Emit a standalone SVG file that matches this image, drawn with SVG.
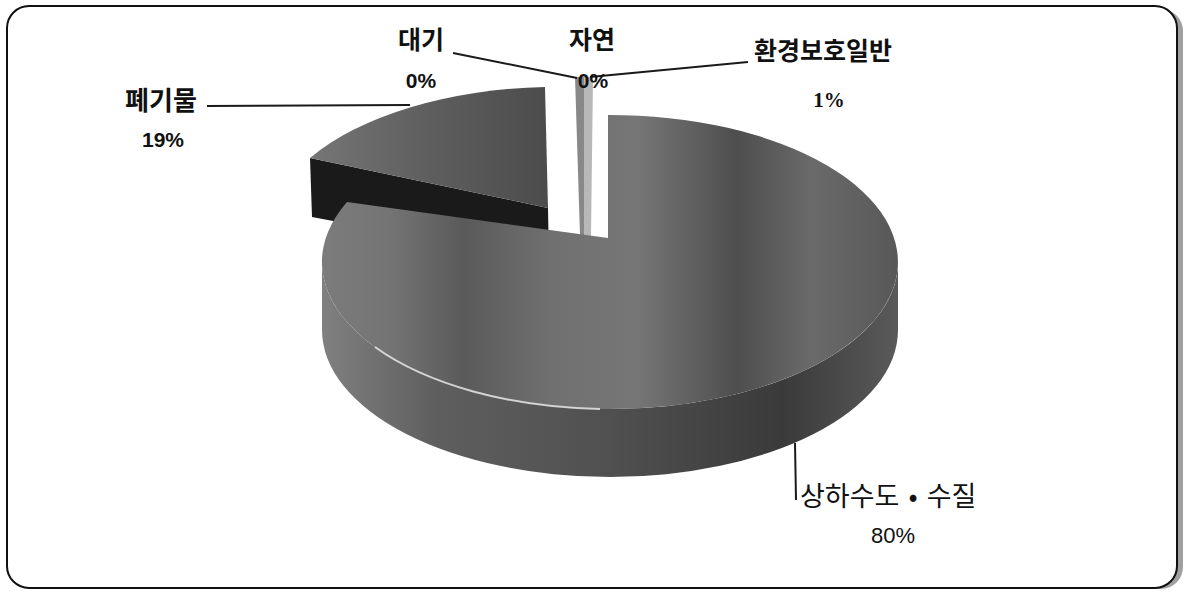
<svg xmlns="http://www.w3.org/2000/svg" width="1192" height="592" viewBox="0 0 1192 592">
  <style>
    .lbl { font-family: "Noto Sans CJK KR", "Noto Sans", sans-serif; fill: #111; }
    .b { font-weight: bold; }
    .pct { font-family: "Liberation Sans", "DejaVu Sans", sans-serif; font-weight: bold; fill: #111; }
    .pctr { font-family: "Liberation Sans", "DejaVu Sans", sans-serif; fill: #111; }
    .pcts { font-family: "Liberation Serif", serif; font-weight: bold; fill: #111; }
    .leader { stroke: #1a1a1a; stroke-width: 2; fill: none; }
  </style>
  <defs>
    <linearGradient id="gTop" x1="320" y1="0" x2="898" y2="0" gradientUnits="userSpaceOnUse">
      <stop offset="0" stop-color="#7c7c7c"/>
      <stop offset="0.12" stop-color="#747474"/>
      <stop offset="0.25" stop-color="#5a5a5a"/>
      <stop offset="0.4" stop-color="#707070"/>
      <stop offset="0.55" stop-color="#767676"/>
      <stop offset="0.72" stop-color="#4e4e4e"/>
      <stop offset="0.85" stop-color="#6a6a6a"/>
      <stop offset="1" stop-color="#585858"/>
    </linearGradient>
    <linearGradient id="gSide" x1="322" y1="0" x2="898" y2="0" gradientUnits="userSpaceOnUse">
      <stop offset="0" stop-color="#808080"/>
      <stop offset="0.2" stop-color="#5e5e5e"/>
      <stop offset="0.5" stop-color="#505050"/>
      <stop offset="0.8" stop-color="#3a3a3a"/>
      <stop offset="1" stop-color="#5a5a5a"/>
    </linearGradient>
    <linearGradient id="gWaste" x1="310" y1="0" x2="548" y2="0" gradientUnits="userSpaceOnUse">
      <stop offset="0" stop-color="#767676"/>
      <stop offset="0.5" stop-color="#5e5e5e"/>
      <stop offset="1" stop-color="#4c4c4c"/>
    </linearGradient>
  </defs>

  <g id="frame">
    <rect x="13" y="9" width="1170" height="580" rx="22" fill="#a0a0a0"/>
    <rect x="7" y="6" width="1170" height="582" rx="22" fill="#ffffff" stroke="#111" stroke-width="2"/>
  </g>

  <g id="slice-waste">
    <path d="M310,158 L548,208 L549,262 L312,217 Z" fill="#1a1a1a"/>
    <path d="M548,208 L545,87 A288,147 0 0 0 310,158 Z" fill="url(#gWaste)"/>
  </g>

  <g id="slice-small">
    <path d="M575,77 L584,77 L584,235 L580,235 Z" fill="#888"/>
    <path d="M584,77 L593,77 L591,236 L584,236 Z" fill="#b8b8b8"/>
  </g>

  <g id="slice-water">
    <path d="M322,262 A288,147 0 0 0 898,262 L898,330 A288,147 0 0 1 322,330 Z" fill="url(#gSide)"/>
    <path d="M608,238 L608,115 A288,147 0 1 1 347,202 Z" fill="url(#gTop)"/>
    <path d="M375,347 A288,147 0 0 0 600,409" fill="none" stroke="#e4e4e4" stroke-width="2" opacity="0.85"/>
  </g>

  <g id="connectors">
    <path class="leader" d="M207,106 L410,105"/>
    <path class="leader" d="M453,53 L577,78"/>
    <path class="leader" d="M590,77 L748,62"/>
    <path class="leader" d="M795,443 L796,500"/>
  </g>

  <g id="label-waste">
    <text class="lbl b" x="161" y="110" font-size="26" text-anchor="middle">폐기물</text>
    <text class="pct" x="163" y="147" font-size="21" text-anchor="middle">19%</text>
  </g>
  <g id="label-air">
    <text class="lbl b" x="421" y="49" font-size="25" text-anchor="middle">대기</text>
    <text class="pct" x="421" y="88" font-size="21" text-anchor="middle">0%</text>
  </g>
  <g id="label-nature">
    <text class="lbl b" x="592" y="49" font-size="25" text-anchor="middle">자연</text>
    <text class="pct" x="593" y="88" font-size="21" text-anchor="middle">0%</text>
  </g>
  <g id="label-general">
    <text class="lbl b" x="823" y="60" font-size="25" text-anchor="middle">환경보호일반</text>
    <text class="pcts" x="829" y="107" font-size="21" text-anchor="middle">1%</text>
  </g>
  <g id="label-water">
    <text class="lbl" x="800" y="506" font-size="27" word-spacing="3">상하수도 • 수질</text>
    <text class="pctr" x="893" y="543" font-size="22" text-anchor="middle">80%</text>
  </g>
</svg>
